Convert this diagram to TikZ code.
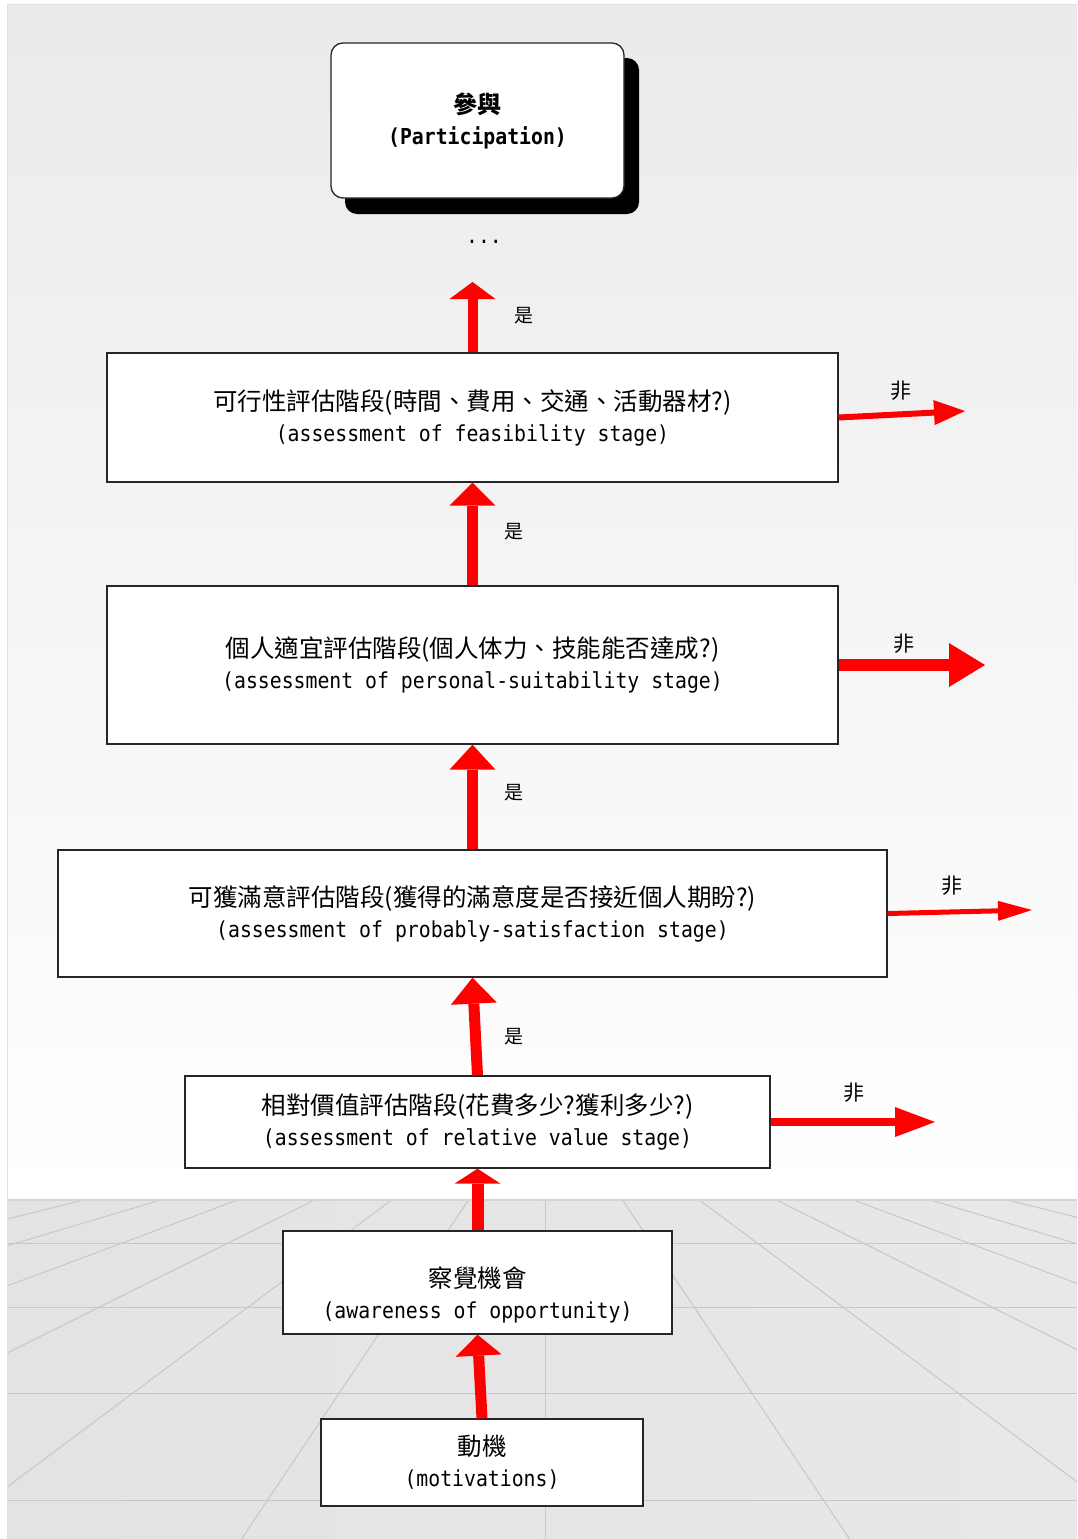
\documentclass[tikz,border=0pt]{standalone}
\usepackage{fontspec}
\setmainfont{Noto Sans CJK TC}
\newfontfamily\latinf[FakeStretch=0.9]{DejaVu Sans Mono}
\newcommand{\lat}{\fontsize{22}{31}\selectfont\latinf}
\usetikzlibrary{arrows.meta,calc}
\tikzset{
  box/.style={draw=black!85, line width=1.3pt, fill=white, rectangle, inner sep=0pt, align=center,
    font=\fontsize{24.5}{31}\selectfont},
  arr/.style n args={3}{draw=red, fill=red, line width=#1, -{Triangle[length=#2, width=#3, line width=0pt]}},
  gridline/.style={draw=black!22, line width=1pt},
  yes/.style={font=\fontsize{19}{19}\selectfont},
  no/.style={font=\fontsize{21}{21}\selectfont}
}
\begin{document}
\begin{tikzpicture}[x=1pt,y=-1pt]
\useasboundingbox (0,0) rectangle (1077,1539);
% background
\fill[white] (0,0) rectangle (1077,1539);
\shade[top color=black!8, bottom color=white] (7,4) rectangle (1077,1199);
\draw[black!12, line width=1pt] (7,1199) -- (7,4) -- (1077,4);
\shade[left color=black!11, middle color=black!2, right color=black!9] (7,1199) rectangle (1077,1539);
\begin{scope}
  \clip (7,1199) rectangle (1077,1539);
  \foreach \k in {1,...,7} {
    \draw[gridline] ({545.5+77*\k},1200) -- ({545.5+304*\k},1539);
    \draw[gridline] ({545.5-77*\k},1200) -- ({545.5-304*\k},1539);
  }
  \draw[gridline] (545.5,1200) -- (545.5,1539);
  \foreach \yy in {1243,1307,1393,1500} {
    \draw[gridline] (7,\yy) -- (1077,\yy);
  }
  \draw[draw=black!17, line width=2pt] (7,1200) -- (1077,1200);
\end{scope}
\draw[black!12, line width=1pt] (7,1199) -- (7,1539);

% top box with shadow
\fill[black, rounded corners=12pt] (345,58) rectangle (639,214);
\node[box, rounded corners=12pt, minimum width=293pt, minimum height=155pt,
  font=\fontsize{24}{31}\selectfont\bfseries] (top) at (477.5,120.5)
  {參與\\{\lat\bfseries (Participation)}};
\node[font=\fontsize{22}{22}\selectfont\latinf] (dots) at (484,242) {...};

% stage boxes
\node[box, minimum width=731pt, minimum height=129pt] (b1) at (472.5,417.5)
  {可行性評估階段(時間、費用、交通、活動器材?)\\{\lat (assessment of feasibility stage)}};
\node[box, minimum width=731pt, minimum height=158pt] (b2) at (472.5,665)
  {個人適宜評估階段(個人体力、技能能否達成?)\\{\lat (assessment of personal-suitability stage)}};
\node[box, minimum width=829pt, minimum height=127pt] (b3) at (472.5,913.5)
  {可獲滿意評估階段(獲得的滿意度是否接近個人期盼?)\\{\lat (assessment of probably-satisfaction stage)}};
\node[box, minimum width=585pt, minimum height=92pt] (b4) at (477.5,1122)
  {相對價值評估階段(花費多少?獲利多少?)\\{\lat (assessment of relative value stage)}};
\node[box, minimum width=389pt, minimum height=103pt] (b5) at (477.5,1282.5)
  {\rule{0pt}{45pt}察覺機會\\{\lat (awareness of opportunity)}};
\node[box, minimum width=322pt, minimum height=87pt] (b6) at (482,1462.5)
  {動機\\{\lat (motivations)}};

% free ends
\coordinate (t1) at (472.5,282);
\coordinate (r1) at (965,411);
\coordinate (r2) at (985,665);
\coordinate (r3) at (1032,910);
\coordinate (r4) at (935,1122);

% upward arrows
\draw[arr={10pt}{17pt}{46pt}] (b1.north) -- (t1);
\draw[arr={11pt}{23pt}{46pt}] (b2.north) -- (b1.south);
\draw[arr={11pt}{25pt}{46pt}] (b3.north) -- (b2.south);
\draw[arr={11pt}{26pt}{46pt}] (b4.north) -- (b3.south);
\draw[arr={12pt}{15pt}{46pt}] (b5.north) -- (b4.south);
\draw[arr={11pt}{21pt}{46pt}] (b6.north) -- (b5.south);

% rightward arrows
\draw[arr={6pt}{31pt}{25pt}] (b1.east) -- (r1);
\draw[arr={12pt}{36pt}{44pt}] (b2.east) -- (r2);
\draw[arr={5pt}{34pt}{20pt}] (b3.east) -- (r3);
\draw[arr={8pt}{40pt}{30pt}] (b4.east) -- (r4);

% labels
\node[yes] (y1) at (524,316) {是};
\node[yes] (y2) at (514,532) {是};
\node[yes] (y3) at (514,793) {是};
\node[yes] (y4) at (514,1037) {是};
\node[no] (n1) at (901,391) {非};
\node[no] (n2) at (904,644) {非};
\node[no] (n3) at (952,886) {非};
\node[no] (n4) at (854,1093) {非};
\end{tikzpicture}
\end{document}
